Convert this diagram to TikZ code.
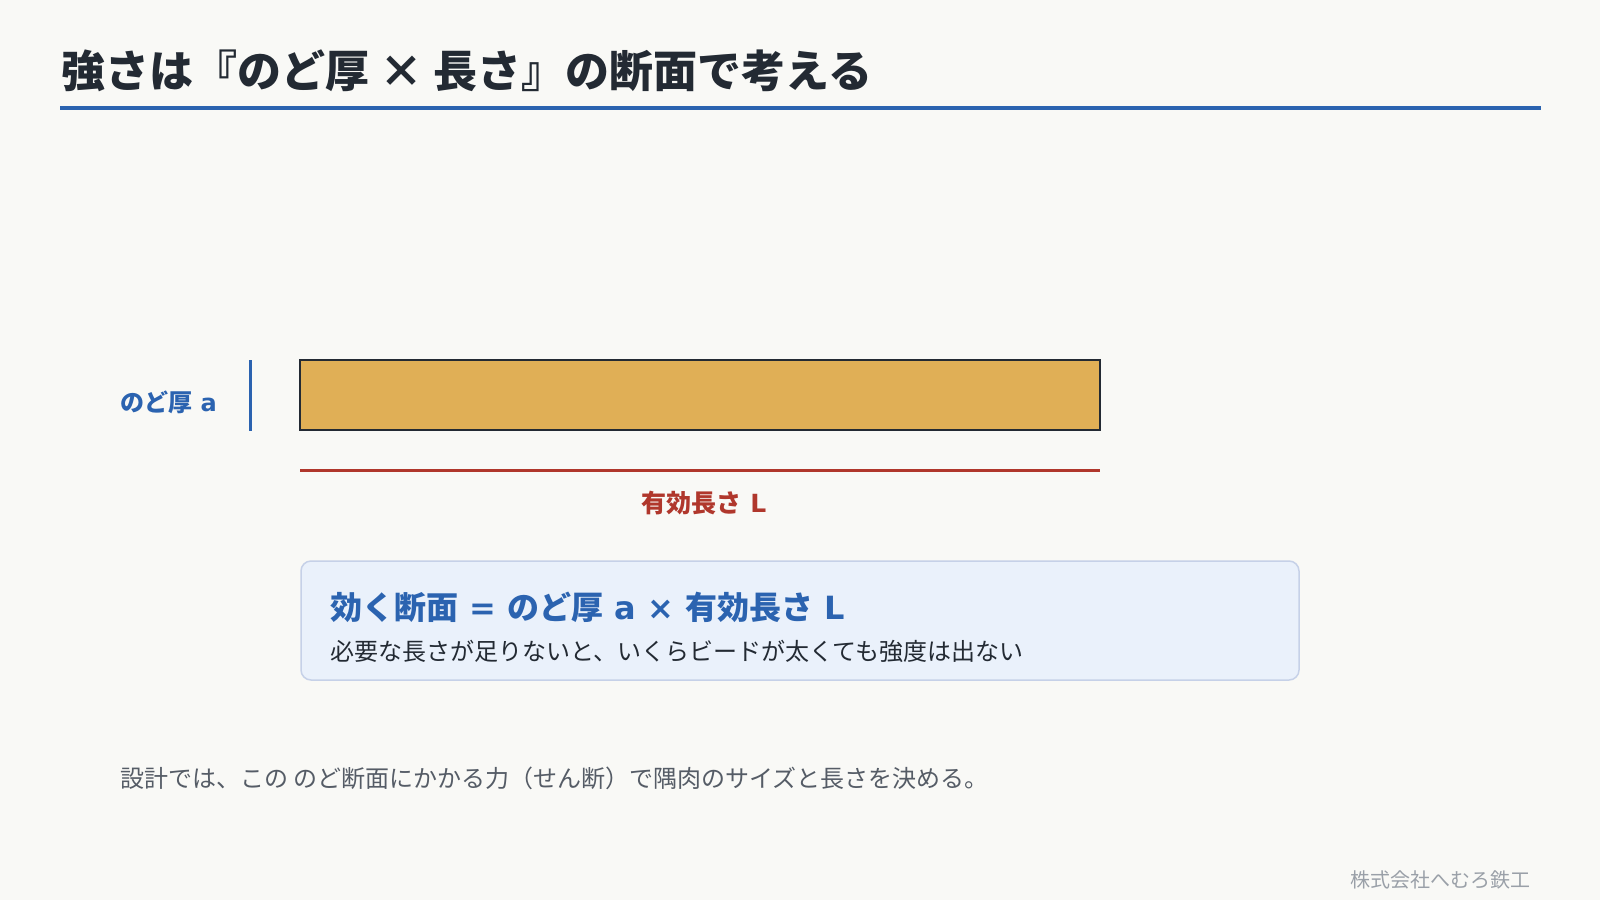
\documentclass[tikz,border=0pt]{standalone}
\usepackage{fontspec}
\setmainfont{Noto Sans CJK JP}
\newfontfamily\latfont{DejaVu Sans}
\newcommand{\lat}[1]{{\latfont#1}}
\usetikzlibrary{positioning}
\definecolor{bgpaper}{HTML}{F9F9F6}
\definecolor{inkdark}{HTML}{232A33}
\definecolor{steelblue}{HTML}{2B63B0}
\definecolor{weldgold}{HTML}{E0AF56}
\definecolor{rustred}{HTML}{B0372C}
\definecolor{notefill}{HTML}{EAF1FB}
\definecolor{noteline}{HTML}{C6D1E8}
\definecolor{graytext}{HTML}{555C66}
\definecolor{footgray}{HTML}{9AA0A8}

\begin{document}
\begin{tikzpicture}[x=1pt, y=-1pt,
    txt/.style={inner sep=0pt, anchor=west},
    fs/.style={font=\fontsize{#1}{#1}\selectfont},
    bfs/.style={font=\fontsize{#1}{#1}\selectfont\bfseries}]
    \fill[bgpaper](0, 0)rectangle(1600, 900);
    \node[txt, text=inkdark, bfs=44](title)at(61, 71){強さは『のど厚 × 長さ』の断面で考える};
    \draw[steelblue, line width=4pt](60, 108)--(1541, 108);
    \node[draw=inkdark, fill=weldgold, line width=2pt, minimum width=800, minimum height=70, inner sep=0pt](section)at(700, 395){};
    \draw[steelblue, line width=3pt](250, 360)--(250, 431);
    \node[txt, text=steelblue, bfs=24](throat)at(120, 402){のど厚\lat{ a}};
    \draw[rustred, line width=3pt](300, 470)--(1100, 470);
    \node[inner sep=0pt, text=rustred, bfs=25](length)at(704, 503){有効長さ\lat{ L}};
    \node[draw=noteline, fill=notefill, rounded corners=10pt, line width=1.5pt, minimum width=998, minimum height=119, inner sep=0pt](note)at(800, 620.5){};
    \node[txt, text=steelblue, bfs=32](formula)at(330, 607){効く断面\lat{ = }のど厚\lat{ a × }有効長さ\lat{ L}};
    \node[txt, text=inkdark, fs=24](warning)at(330, 651){必要な長さが足りないと、いくらビードが太くても強度は出ない};
    \node[txt, text=graytext, fs=24](design)at(120, 778){設計では、この のど断面にかかる力（せん断）で隅肉のサイズと長さを決める。};
    \node[inner sep=0pt, anchor=east, text=footgray, fs=20](company)at(1531, 880){株式会社へむろ鉄工};
\end{tikzpicture}
\end{document}
